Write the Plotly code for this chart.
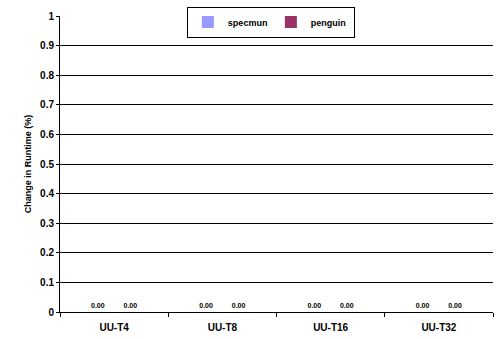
import plotly.graph_objects as go

categories = ["UU-T4", "UU-T8", "UU-T16", "UU-T32"]
specmun = [0.0, 0.0, 0.0, 0.0]
penguin = [0.0, 0.0, 0.0, 0.0]
y_ticks = [0, 0.1, 0.2, 0.3, 0.4, 0.5, 0.6, 0.7, 0.8, 0.9, 1]

FONT = "Liberation Sans, Arial, sans-serif"
label_font = dict(family=FONT, size=7, color="black", weight="bold")

fig = go.Figure()
for name, vals, color in [("specmun", specmun, "#9999FF"), ("penguin", penguin, "#993366")]:
    fig.add_trace(go.Bar(
        name=name, x=categories, y=vals,
        marker=dict(color=color, line=dict(color="black", width=0)),
        text=[f"{v:.2f}" for v in vals], textposition="outside",
        textfont=label_font, outsidetextfont=label_font,
        cliponaxis=False,
    ))

fig.update_layout(
    width=498, height=339,
    margin=dict(l=60, r=5, t=16, b=27),
    paper_bgcolor="white", plot_bgcolor="white",
    barmode="group", bargap=0.4, bargroupgap=0,
    font=dict(family=FONT, color="black"),
    showlegend=True,
    legend=dict(
        orientation="h", x=0.293, y=1.032, xanchor="left", yanchor="top",
        bordercolor="black", borderwidth=1, bgcolor="white",
        font=dict(family=FONT, size=9, weight="bold"),
        itemwidth=30, entrywidth=38,
    ),
    xaxis=dict(
        showgrid=False, showline=True, linecolor="black", linewidth=1,
        ticks="outside", ticklen=4, tickcolor="black", tickson="boundaries",
        ticklabelstandoff=6,
        tickfont=dict(family=FONT, size=10, weight="bold"),
    ),
    yaxis=dict(
        range=[0, 1], tickvals=y_ticks, ticktext=[f"{v:g}" for v in y_ticks],
        showgrid=True, gridcolor="black", gridwidth=1,
        showline=True, linecolor="black", linewidth=1,
        ticks="outside", ticklen=3, tickcolor="black", zeroline=False,
        tickfont=dict(family=FONT, size=10, weight="bold"),
        title=dict(text="Change in Runtime (%)", standoff=6,
                   font=dict(family=FONT, size=9, weight="bold")),
    ),
)

fig.write_html("out.html")
